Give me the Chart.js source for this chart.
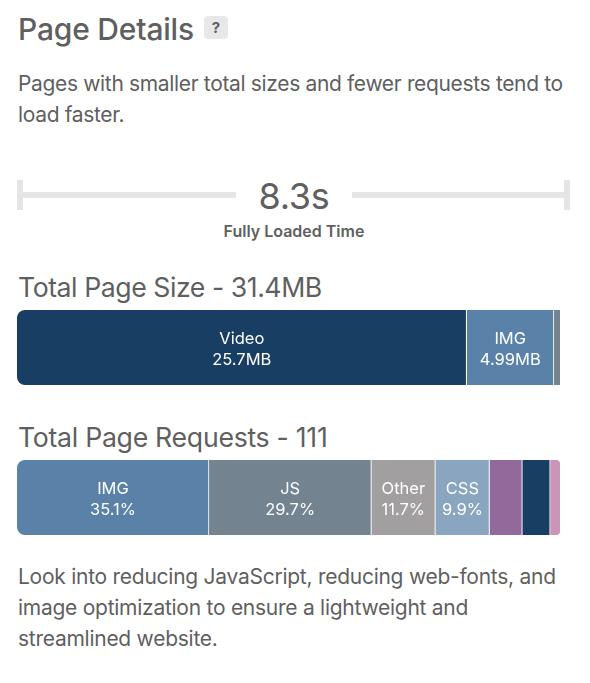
<!DOCTYPE html>
<html>
<head>
<meta charset="utf-8">
<script src="https://cdn.jsdelivr.net/npm/chart.js@4/dist/chart.umd.min.js"></script>
<style>
html,body{margin:0;padding:0;background:#fff;width:590px;height:683px;overflow:hidden}
body{font-family:Inter,sans-serif;color:#5f5f5f;position:relative}
.t{position:absolute;white-space:nowrap}
.r{position:absolute;background:#e5e5e5}
.c{position:absolute;left:17px;width:543px;height:75px}
</style>
</head>
<body>
<div class="t" style="left:18px;top:10px;font-size:30px;font-weight:500;letter-spacing:-.2px;line-height:38px">Page Details</div>
<div class="t" style="left:204px;top:16px;width:24px;height:23px;border-radius:4px;background:#e8e8e8;text-align:center;font-size:15px;font-weight:700;line-height:23px">?</div>
<div class="t" style="left:18px;top:68px;font-size:21px;line-height:31px;letter-spacing:-.34px">Pages with smaller total sizes and fewer requests tend to<br>load faster.</div>
<div class="r" style="left:17px;top:180px;width:6px;height:30px"></div>
<div class="r" style="left:23px;top:192px;width:213px;height:6px"></div>
<div class="r" style="left:352px;top:192px;width:212px;height:6px"></div>
<div class="r" style="left:564px;top:180px;width:6px;height:30px"></div>
<div class="t" style="left:236px;width:116px;top:174px;text-align:center;font-size:36px;line-height:44px;letter-spacing:-.3px">8.3s</div>
<div class="t" style="left:194px;width:200px;top:221px;text-align:center;font-size:16px;font-weight:600;line-height:20px;letter-spacing:0">Fully Loaded Time</div>
<div class="t" style="left:18px;top:270px;font-size:26.7px;line-height:34px;letter-spacing:-.47px">Total Page Size - 31.4MB</div>
<div class="c" style="top:310px"><canvas id="size"></canvas></div>
<div class="t" style="left:18px;top:420px;font-size:26.7px;line-height:34px;letter-spacing:-.3px">Total Page Requests - 111</div>
<div class="c" style="top:460px"><canvas id="reqs"></canvas></div>
<div class="t" style="left:18px;top:561px;font-size:21px;line-height:31px;letter-spacing:-.26px">Look into reducing JavaScript, reducing web-fonts, and<br>image optimization to ensure a lightweight and<br>streamlined website.</div>
<script>
const sizeCategories = ["Video", "IMG", "JS"];
const sizeValues = [25.7, 4.99, 0.35];
const sizeLabels = ["25.7MB", "4.99MB", ""];
const sizeColors = ["#183e63", "#5a82a8", "#73838f"];

const reqCategories = ["IMG", "JS", "Other", "CSS", "Font", "Video", "HTML"];
const reqValues = [35.1, 29.7, 11.7, 9.9, 6.0, 5.1, 1.8];
const reqLabels = ["35.1%", "29.7%", "11.7%", "9.9%", "", "", ""];
const reqColors = ["#5a82a8", "#73838f", "#a19f9f", "#89a5bf", "#92699b", "#183e63", "#cb95b9"];

const segmentLabels = {
  id: "segmentLabels",
  afterDatasetsDraw(chart) {
    const { ctx } = chart;
    chart.data.datasets.forEach((ds, i) => {
      if (!ds.valueLabel) return;
      const bar = chart.getDatasetMeta(i).data[0];
      const cx = (bar.base + bar.x) / 2;
      ctx.save();
      ctx.fillStyle = "#ffffff";
      ctx.font = "400 16.5px Inter, sans-serif";
      ctx.textAlign = "center";
      ctx.textBaseline = "middle";
      ctx.fillText(ds.label, cx, 29);
      ctx.fillText(ds.valueLabel, cx, 50);
      ctx.restore();
    });
  }
};

function stackedBar(id, cats, vals, labels, cols, roundEnd, max) {
  new Chart(document.getElementById(id), {
    type: "bar",
    data: {
      labels: [""],
      datasets: cats.map((c, i) => ({
        label: c,
        data: [vals[i]],
        valueLabel: labels[i],
        backgroundColor: cols[i],
        borderColor: "#ffffff",
        borderWidth: { top: 0, bottom: 0, left: 0, right: i < cats.length - 1 ? 1 : 0 },
        borderSkipped: false,
        borderRadius: i === 0 ? { topLeft: 8, bottomLeft: 8, topRight: 0, bottomRight: 0 }
          : (i === cats.length - 1 && roundEnd ? { topLeft: 0, bottomLeft: 0, topRight: 8, bottomRight: 8 } : 0),
        barPercentage: 1,
        categoryPercentage: 1
      }))
    },
    options: {
      indexAxis: "y",
      responsive: true,
      maintainAspectRatio: false,
      animation: false,
      layout: { padding: 0 },
      plugins: { legend: { display: false }, tooltip: { enabled: false } },
      scales: {
        x: { stacked: true, display: false, min: 0, max },
        y: { stacked: true, display: false }
      }
    },
    plugins: [segmentLabels]
  });
}

stackedBar("size", sizeCategories, sizeValues, sizeLabels, sizeColors, false, 31.04);
stackedBar("reqs", reqCategories, reqValues, reqLabels, reqColors, true, 99.3);
</script>
</body>
</html>
